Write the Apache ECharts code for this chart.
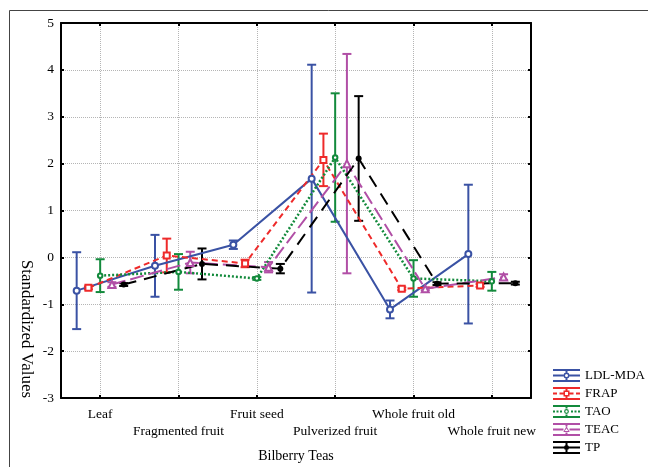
<!DOCTYPE html>
<html>
<head>
<meta charset="utf-8">
<script src="https://cdn.jsdelivr.net/npm/echarts@6/dist/echarts.min.js"></script>
<style>html,body{margin:0;padding:0;background:#fff}#c{width:648px;height:467px}</style>
</head>
<body>
<div id="c"></div>
<script>
const categories = ['Leaf', 'Fragmented fruit', 'Fruit seed', 'Pulverized fruit', 'Whole fruit old', 'Whole fruit new'];
const seriesNames = ['LDL-MDA', 'FRAP', 'TAO', 'TEAC', 'TP'];
const yTicks = [-3, -2, -1, 0, 1, 2, 3, 4, 5];

const ldlMean  = [-0.71, -0.18, 0.27, 1.68, -1.11, 0.07];
const ldlErr   = [0.82, 0.66, 0.09, 2.43, 0.19, 1.48];
const frapMean = [-0.65, 0.04, -0.13, 2.08, -0.67, -0.60];
const frapErr  = [0.03, 0.36, 0.08, 0.56, 0.03, 0.03];
const taoMean  = [-0.39, -0.31, -0.45, 2.13, -0.45, -0.51];
const taoErr   = [0.35, 0.38, 0.03, 1.37, 0.39, 0.20];
const teacMean = [-0.58, -0.11, -0.21, 2.00, -0.67, -0.42];
const teacErr  = [0.05, 0.23, 0.11, 2.34, 0.03, 0.06];
const tpMean   = [-0.58, -0.14, -0.24, 2.11, -0.56, -0.55];
const tpErr    = [0.03, 0.33, 0.10, 1.33, 0.03, 0.03];

const means = [ldlMean, frapMean, taoMean, teacMean, tpMean];
const errs = [ldlErr, frapErr, taoErr, teacErr, tpErr];

// styling (not data)
const colors = ['#3a52a4', '#ee2a2a', '#138a3c', '#b14fa6', '#000000'];
const dodge = [-0.3, -0.15, 0, 0.15, 0.3];
const symbols = ['emptyCircle', 'emptyRect', 'emptyCircle', 'emptyTriangle', 'circle'];
const symbolSizes = [6, 6, 4.5, 7, 6];
const lineTypes = ['solid', [6, 4], [2, 2], [14, 5], [13, 8]];
const lineWidths = [2, 2, 2.5, 2, 2];

const FONT = 'Liberation Serif';

function rect(x0, y0, x1, y1) { return 'M' + x0 + ' ' + y0 + 'L' + x1 + ' ' + y0 + 'L' + x1 + ' ' + y1 + 'L' + x0 + ' ' + y1 + 'Z'; }
function ring(cx, cy, r1, r2) {
  return 'M' + (cx - r1) + ' ' + cy + 'A' + r1 + ' ' + r1 + ' 0 1 1 ' + (cx + r1) + ' ' + cy + 'A' + r1 + ' ' + r1 + ' 0 1 1 ' + (cx - r1) + ' ' + cy + 'Z' +
         'M' + (cx - r2) + ' ' + cy + 'A' + r2 + ' ' + r2 + ' 0 1 0 ' + (cx + r2) + ' ' + cy + 'A' + r2 + ' ' + r2 + ' 0 1 0 ' + (cx - r2) + ' ' + cy + 'Z';
}
function segs(list) { return list.map(s => rect(s[0], 55, s[1], 75)).join(''); }
const base = rect(0, 0, 270, 20) + rect(0, 110, 270, 130);
const stemBroken = rect(125, 0, 145, 36) + rect(125, 94, 145, 130);
const icons = [
  base + stemBroken + segs([[0, 105], [165, 270]]) + ring(135, 65, 30, 15),
  base + stemBroken + segs([[0, 40], [65, 105], [165, 205], [230, 270]]) +
    rect(105, 35, 165, 95) + 'M120 50L120 80L150 80L150 50Z',
  base + stemBroken + segs([[0, 20], [35, 55], [70, 90], [180, 200], [215, 235], [250, 270]]) + ring(135, 65, 24, 12),
  base + stemBroken + segs([[0, 105], [165, 270]]) + 'M135 33L167 90L103 90ZM135 56L117 80L153 80Z',
  base + rect(125, 0, 145, 130) + segs([[0, 270]]) + 'M110 65A25 25 0 1 1 160 65A25 25 0 1 1 110 65Z'
];

function renderErr(params, api) {
  const x = api.value(0), lo = api.value(1), hi = api.value(2);
  const a = api.coord([x, lo]), b = api.coord([x, hi]);
  const w = 4.5;
  const st = { stroke: api.visual('color'), lineWidth: 2, fill: null };
  return {
    type: 'group',
    children: [
      { type: 'line', shape: { x1: a[0], y1: a[1], x2: b[0], y2: b[1] }, style: st },
      { type: 'line', shape: { x1: a[0] - w, y1: a[1], x2: a[0] + w, y2: a[1] }, style: st },
      { type: 'line', shape: { x1: b[0] - w, y1: b[1], x2: b[0] + w, y2: b[1] }, style: st }
    ]
  };
}

const series = [];
seriesNames.forEach((name, s) => {
  series.push({
    name: name, type: 'line', color: colors[s],
    data: categories.map((c, i) => [i + 1 + dodge[s], means[s][i]]),
    symbol: symbols[s], symbolSize: symbolSizes[s], showAllSymbol: true,
    lineStyle: { color: colors[s], width: lineWidths[s], type: lineTypes[s] },
    itemStyle: { color: colors[s], borderWidth: 1.3 },
    z: 3
  });
});
seriesNames.forEach((name, s) => {
  series.push({
    name: name, type: 'custom', color: colors[s],
    itemStyle: { color: colors[s] },
    data: categories.map((c, i) => [i + 1 + dodge[s], means[s][i] - errs[s][i], means[s][i] + errs[s][i]]),
    encode: { x: 0, y: [1, 2] },
    renderItem: renderErr,
    z: 2
  });
});

const xVals = categories.map((c, i) => i + 1);
const xValsUpper = xVals.filter((v, i) => i % 2 === 0);
const xValsLower = xVals.filter((v, i) => i % 2 === 1);
const catLabel = v => categories[Math.round(v) - 1];
const tickStyle = { show: true, inside: true, length: 3, lineStyle: { color: '#000', width: 2 } };
const labelFont = { fontFamily: FONT, fontSize: 13.5, color: '#000', lineHeight: 16 };

const chart = echarts.init(document.getElementById('c'), null, { renderer: 'canvas' });
chart.setOption({
  animation: false,
  backgroundColor: '#ffffff',
  grid: { left: 61, top: 23, width: 470, height: 375, containLabel: false, outerBoundsMode: 'none' },
  legend: {
    orient: 'vertical', left: 548, top: 364, itemWidth: 27, itemHeight: 13, itemGap: 5,
    textStyle: { fontFamily: FONT, fontSize: 13, color: '#000' },
    data: seriesNames.map((n, s) => ({ name: n, icon: 'path://' + icons[s], itemStyle: { color: colors[s], borderWidth: 0 } }))
  },
  xAxis: [{
    type: 'value', min: 0.5, max: 6.5, position: 'bottom',
    name: 'Bilberry Teas', nameLocation: 'middle', nameGap: 51,
    nameTextStyle: { fontFamily: FONT, fontSize: 14, color: '#000' },
    axisLine: { show: true, onZero: false, lineStyle: { color: '#000', width: 2 } },
    axisTick: Object.assign({ customValues: xVals }, tickStyle),
    axisLabel: Object.assign({ customValues: xValsUpper, margin: 8.7, showMinLabel: true, showMaxLabel: true, formatter: catLabel }, labelFont),
    splitLine: { show: true, lineStyle: { color: '#b5b5b5', type: 'dotted', width: 1 } }
  }, {
    type: 'value', min: 0.5, max: 6.5, position: 'top',
    axisLine: { show: true, onZero: false, lineStyle: { color: '#000', width: 2 } },
    axisTick: Object.assign({ customValues: xVals }, tickStyle),
    axisLabel: { show: false }, splitLine: { show: false }
  }, {
    type: 'value', min: 0.5, max: 6.5, position: 'bottom', offset: 0,
    axisLine: { show: false }, axisTick: { show: false }, splitLine: { show: false },
    axisLabel: Object.assign({ customValues: xValsLower, margin: 25.2, showMinLabel: true, showMaxLabel: true, formatter: catLabel }, labelFont)
  }],
  yAxis: [{
    type: 'value', min: -3, max: 5, interval: 1, position: 'left',
    axisLine: { show: true, onZero: false, lineStyle: { color: '#000', width: 2 } },
    axisTick: tickStyle,
    axisLabel: { margin: 7, fontFamily: FONT, fontSize: 13.5, color: '#000', formatter: v => String(v) },
    splitLine: { show: true, lineStyle: { color: '#b5b5b5', type: 'dotted', width: 1 } }
  }, {
    type: 'value', min: -3, max: 5, interval: 1, position: 'right',
    axisLine: { show: true, onZero: false, lineStyle: { color: '#000', width: 2 } },
    axisTick: tickStyle, axisLabel: { show: false }, splitLine: { show: false }
  }],
  graphic: [
    { type: 'line', shape: { x1: 9.5, y1: 10.5, x2: 648, y2: 10.5 }, style: { stroke: '#444', lineWidth: 1 }, silent: true },
    { type: 'line', shape: { x1: 9.5, y1: 10.5, x2: 9.5, y2: 467 }, style: { stroke: '#444', lineWidth: 1 }, silent: true },
    { type: 'text', x: 26, y: 329, rotation: -Math.PI / 2,
      style: { text: 'Standardized Values', fontFamily: FONT, fontSize: 17, fill: '#000', align: 'center', verticalAlign: 'middle' } }
  ],
  series: series
});
</script>
</body>
</html>
